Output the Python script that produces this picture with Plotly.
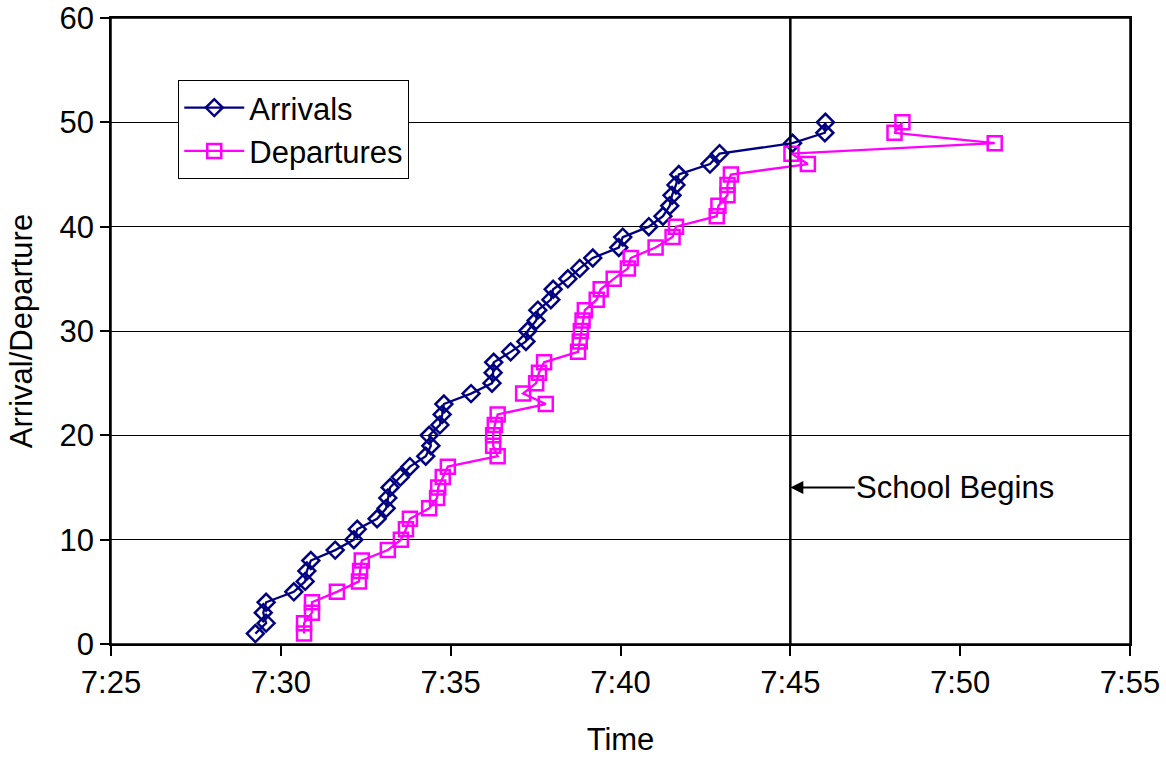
import plotly.graph_objects as go

counts = list(range(1, 51))

arrival_times = [
    "07:29:15", "07:29:34", "07:29:29", "07:29:34", "07:30:23", "07:30:43", "07:30:46", "07:30:53",
    "07:31:36", "07:32:09", "07:32:15", "07:32:50", "07:33:06", "07:33:09", "07:33:13", "07:33:31",
    "07:33:48", "07:34:16", "07:34:25", "07:34:22", "07:34:41", "07:34:45", "07:34:48", "07:35:36",
    "07:36:13", "07:36:15", "07:36:16", "07:36:46", "07:37:13", "07:37:16", "07:37:31", "07:37:34",
    "07:37:57", "07:38:01", "07:38:27", "07:38:48", "07:39:11", "07:39:57", "07:40:04", "07:40:50",
    "07:41:15", "07:41:27", "07:41:31", "07:41:38", "07:41:43", "07:42:38", "07:42:55", "07:45:04",
    "07:46:01", "07:46:02",
]

departure_times = [
    "07:30:41", "07:30:41", "07:30:55", "07:30:55", "07:31:39", "07:32:18", "07:32:20", "07:32:23",
    "07:33:09", "07:33:32", "07:33:41", "07:33:48", "07:34:22", "07:34:36", "07:34:38", "07:34:46",
    "07:34:55", "07:36:23", "07:36:15", "07:36:15", "07:36:18", "07:36:23", "07:37:48", "07:37:08",
    "07:37:31", "07:37:36", "07:37:45", "07:38:45", "07:38:48", "07:38:50", "07:38:53", "07:38:57",
    "07:39:18", "07:39:25", "07:39:48", "07:40:13", "07:40:18", "07:41:02", "07:41:32", "07:41:38",
    "07:42:50", "07:42:53", "07:43:09", "07:43:09", "07:43:15", "07:45:31", "07:45:02", "07:51:01",
    "07:48:04", "07:48:18",
]

school_begins = "07:45:00"
tick_labels = ["7:25", "7:30", "7:35", "7:40", "7:45", "7:50", "7:55"]
tick_times = ["07:25", "07:30", "07:35", "07:40", "07:45", "07:50", "07:55"]

DAY = "2000-01-01 "
def d(t):
    return DAY + t

FONT = "Liberation Sans, Arial, sans-serif"
FS = 31

fig = go.Figure()
fig.add_trace(go.Scatter(
    x=[d(t) for t in arrival_times], y=counts, name="Arrivals", mode="lines+markers",
    line=dict(color="#000080", width=2.3),
    marker=dict(symbol="diamond-open", size=13, color="#000080", line=dict(width=2.5, color="#000080")),
))
fig.add_trace(go.Scatter(
    x=[d(t) for t in departure_times], y=counts, name="Departures", mode="lines+markers",
    line=dict(color="#FF00FF", width=2.3),
    marker=dict(symbol="square-open", size=14, color="#FF00FF", line=dict(width=2.5, color="#FF00FF")),
))

# plot-area frame
fig.add_shape(type="rect", xref="paper", yref="paper", x0=0, x1=1, y0=0, y1=1,
              line=dict(color="black", width=1.5), layer="below")

fig.add_shape(type="line", x0=d(school_begins), x1=d(school_begins), y0=0, y1=60,
              xref="x", yref="y", line=dict(color="black", width=2.5))

fig.add_annotation(x=d(school_begins), y=15, xref="x", yref="y", text="School Begins",
                   showarrow=True, arrowhead=2, arrowsize=1.3, arrowwidth=2, arrowcolor="black",
                   ax=165, ay=0, font=dict(family=FONT, size=FS, color="black"))

fig.update_layout(
    width=1166, height=757,
    margin=dict(l=111, r=36, t=18, b=113),
    paper_bgcolor="white", plot_bgcolor="white",
    font=dict(family=FONT, size=FS, color="black"),
    showlegend=True,
    legend=dict(x=0.066, y=0.901, xanchor="left", yanchor="top",
                bgcolor="white", bordercolor="black", borderwidth=1,
                font=dict(family=FONT, size=FS, color="black"),
                tracegroupgap=0, itemwidth=60),
    xaxis=dict(
        type="date", automargin=False, ticklabeloverflow="allow",
        range=[d("07:25"), d("07:55")],
        tickvals=[d(t) for t in tick_times], ticktext=tick_labels,
        showgrid=False, zeroline=False,
        showline=True, linecolor="black", linewidth=1.5, mirror=True,
        ticks="outside", ticklen=10, tickcolor="black", tickwidth=1.5,
        tickfont=dict(family=FONT, size=FS, color="black"),
        title=dict(text="Time", font=dict(family=FONT, size=FS, color="black"), standoff=32),
    ),
    yaxis=dict(
        automargin=False, ticklabeloverflow="allow",
        range=[0, 60], tickvals=[0, 10, 20, 30, 40, 50, 60],
        showgrid=True, gridcolor="black", gridwidth=1,
        zeroline=False,
        showline=True, linecolor="black", linewidth=1.5, mirror=True,
        ticks="outside", ticklen=9, tickcolor="black", tickwidth=1.5,
        tickfont=dict(family=FONT, size=FS, color="black"),
        title=dict(text="Arrival/Departure", font=dict(family=FONT, size=FS, color="black"), standoff=18),
    ),
)

fig.write_html("out.html", config={"displayModeBar": False},
               post_script="document.body.style.margin='0';document.body.style.overflow='hidden';")
